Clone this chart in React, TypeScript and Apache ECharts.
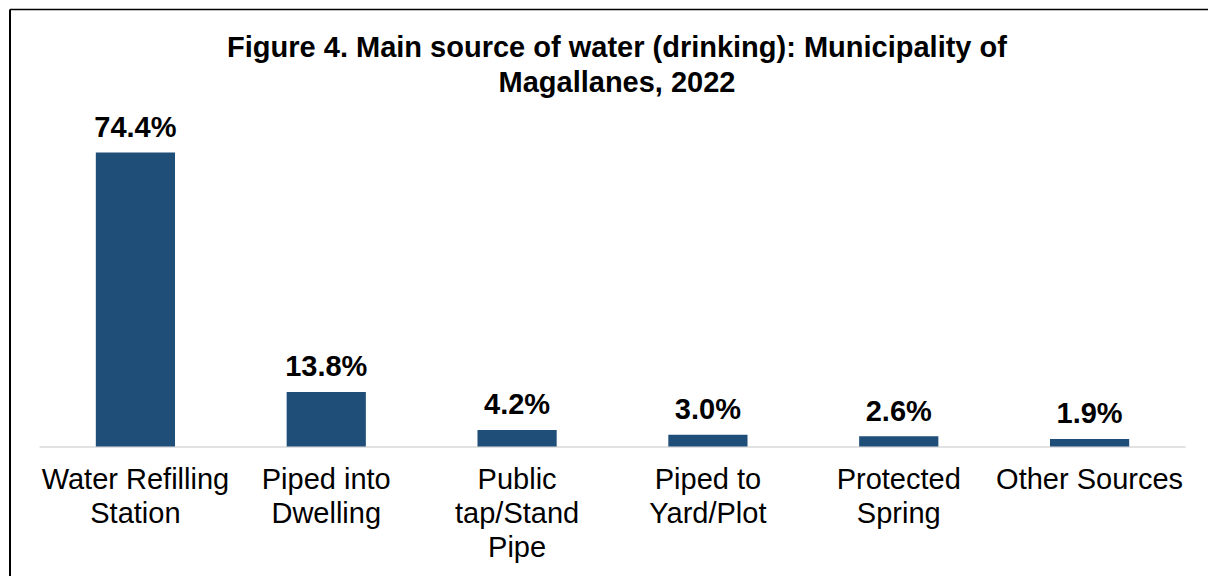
import React, { useEffect, useRef } from "react";
import * as echarts from "echarts";

const titleLines = [
  "Figure 4. Main source of water (drinking): Municipality of",
  "Magallanes, 2022",
];
const categories = [
  "Water Refilling\nStation",
  "Piped into\nDwelling",
  "Public\ntap/Stand\nPipe",
  "Piped to\nYard/Plot",
  "Protected\nSpring",
  "Other Sources",
];
const values = [74.4, 13.8, 4.2, 3.0, 2.6, 1.9];

const FONT = "'Liberation Sans', Arial, sans-serif";

export default function App() {
  const ref = useRef<HTMLDivElement>(null);
  useEffect(() => {
    if (!ref.current) return;
    const chart = echarts.init(ref.current, null, { renderer: "svg" });
    chart.setOption({
      animation: false,
      backgroundColor: "#ffffff",
      title: {
        text: titleLines.join("\n"),
        left: 612,
        top: 24,
        textAlign: "center",
        textStyle: {
          fontFamily: FONT,
          fontWeight: "bold",
          fontSize: 29,
          lineHeight: 35,
          color: "#000000",
        },
      },
      graphic: [
        {
          type: "line",
          shape: { x1: 10, y1: 9.5, x2: 1210, y2: 9.5 },
          style: { stroke: "#000000", lineWidth: 1.5 },
        },
        {
          type: "line",
          shape: { x1: 10, y1: 9.5, x2: 10, y2: 580 },
          style: { stroke: "#000000", lineWidth: 2 },
        },
      ],
      grid: { left: 40, right: 23, top: 130.5, bottom: 129.5, containLabel: false },
      xAxis: {
        type: "category",
        data: categories,
        axisLine: { show: true, lineStyle: { color: "#d9d9d9", width: 1.5 } },
        axisTick: { show: false },
        axisLabel: {
          interval: 0,
          margin: 15,
          fontFamily: FONT,
          fontSize: 29,
          lineHeight: 34,
          color: "#000000",
        },
      },
      yAxis: {
        type: "value",
        min: 0,
        max: 80,
        show: false,
        splitLine: { show: false },
      },
      series: [
        {
          type: "bar",
          data: values,
          barWidth: "41.5%",
          itemStyle: { color: "#1F4E79" },
          label: {
            show: true,
            position: "top",
            distance: 11,
            formatter: (p: any) => p.value.toFixed(1) + "%",
            fontFamily: FONT,
            fontWeight: "bold",
            fontSize: 29,
            color: "#000000",
          },
        },
      ],
    });
    return () => chart.dispose();
  }, []);
  return (
    <div
      ref={ref}
      style={{ position: "absolute", left: 0, top: 0, width: 1208, height: 576 }}
    />
  );
}
